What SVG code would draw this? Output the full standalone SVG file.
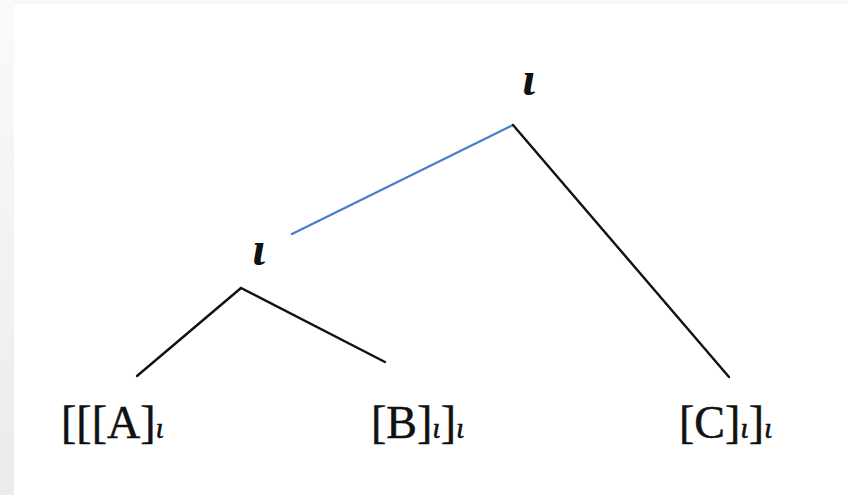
<svg xmlns="http://www.w3.org/2000/svg" width="848" height="495" viewBox="0 0 848 495">
<defs>
<linearGradient id="strip" x1="0" y1="0" x2="0" y2="1">
<stop offset="0" stop-color="#fafafa"/>
<stop offset="1" stop-color="#ebebeb"/>
</linearGradient>
<style>
.edge{stroke:#111;stroke-width:2.4;fill:none;stroke-linecap:round}
.blue{stroke:#4a7dd0}
.lab{font-family:"Liberation Serif",serif;font-size:46px;fill:#111;stroke:#111;stroke-width:0.5}
.sub{font-style:italic;font-size:30px}
.node{font-family:"Liberation Serif",serif;font-style:italic;font-weight:bold;font-size:48px;fill:#111;text-anchor:middle}
</style>
</defs>
<rect width="848" height="495" fill="#ffffff"/>
<rect x="0" y="0" width="848" height="4" fill="#f8f8f8"/>
<rect x="0" y="0" width="14" height="495" fill="url(#strip)"/>
<g id="connectors">
<line class="edge blue" x1="292" y1="234" x2="513" y2="125"/>
<line class="edge" x1="513" y1="125" x2="729" y2="377"/>
<line class="edge" x1="241" y1="288" x2="137" y2="376"/>
<line class="edge" x1="241" y1="288" x2="385" y2="362"/>
</g>
<g id="node-top"><text class="node" x="529" y="95">ι</text></g>
<g id="node-mid"><text class="node" x="259" y="265">ι</text></g>
<g id="leaf-a"><text class="lab" x="61" y="438">[[[A]<tspan class="sub">ι</tspan></text></g>
<g id="leaf-b"><text class="lab" x="371" y="438">[B]<tspan class="sub">ι</tspan>]<tspan class="sub">ι</tspan></text></g>
<g id="leaf-c"><text class="lab" x="679" y="438">[C]<tspan class="sub">ι</tspan>]<tspan class="sub">ι</tspan></text></g>
</svg>
